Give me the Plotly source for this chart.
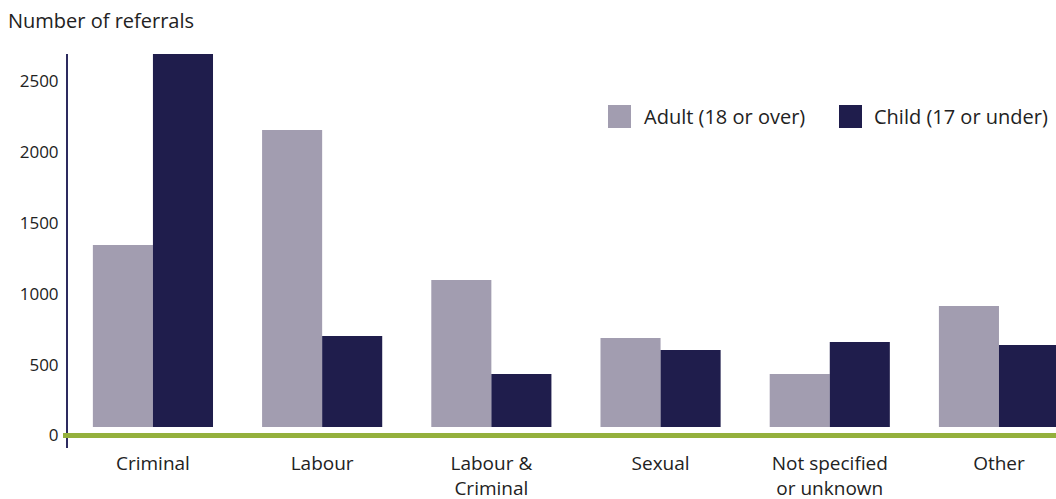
import plotly.graph_objects as go

categories = ["Criminal", "Labour", "Labour &<br>Criminal", "Sexual", "Not specified<br>or unknown", "Other"]
adult = [1343, 2154, 1097, 688, 434, 913]
child = [2700, 702, 434, 603, 659, 638]
series_names = ["Adult (18 or over)", "Child (17 or under)"]
y_ticks = [0, 500, 1000, 1500, 2000, 2500]

ADULT_C = "#a29db0"
CHILD_C = "#1f1d4c"
GREEN = "#94b03c"
AXIS_C = "#2d2b5f"
TXT = "#222222"
FONT = "Open Sans"
TEXT_SIZE = 20
CAT_SIZE = 19
TICK_SIZE = 17

fig = go.Figure()
fig.add_trace(go.Bar(x=list(range(len(categories))), y=adult, name=series_names[0],
                     marker=dict(color=ADULT_C, line=dict(width=0)), showlegend=False))
fig.add_trace(go.Bar(x=list(range(len(categories))), y=child, name=series_names[1],
                     marker=dict(color=CHILD_C, line=dict(width=0)), showlegend=False))

W, H = 1056, 499
ml, mr, mt, mb = 68, 0, 54, 51
pw, ph = W - ml - mr, H - mt - mb

def px_x(x):
    return (x - ml) / pw

def px_y(y):
    return (H - mb - y) / ph

shapes = [
    # white band between bar bases and the baseline (as in reference)
    dict(type="rect", xref="paper", yref="y", x0=2 / pw, x1=1, y0=0, y1=60,
         fillcolor="white", line=dict(width=0), layer="above"),
    dict(type="line", xref="paper", yref="y", x0=px_x(63), x1=1, y0=0, y1=0,
         line=dict(color=GREEN, width=5), layer="above"),
]
annotations = []
legend_items = [(series_names[0], ADULT_C, 608, 642), (series_names[1], CHILD_C, 839, 872)]
for name, col, sx, tx in legend_items:
    shapes.append(dict(type="rect", xref="paper", yref="paper",
                       x0=px_x(sx), x1=px_x(sx + 23), y0=px_y(128), y1=px_y(105),
                       fillcolor=col, line=dict(width=0), layer="above"))
    annotations.append(dict(xref="paper", yref="paper", x=px_x(tx), y=px_y(116.5),
                            xanchor="left", yanchor="middle", text=name, showarrow=False,
                            font=dict(family=FONT, size=TEXT_SIZE, color=TXT)))

fig.update_layout(
    template="none",
    width=W, height=H,
    margin=dict(l=ml, r=mr, t=mt, b=mb, pad=0, autoexpand=False),
    paper_bgcolor="white", plot_bgcolor="white",
    barmode="group", bargap=0.29, bargroupgap=0,
    font=dict(family=FONT, size=TEXT_SIZE, color=TXT),
    title=dict(text="Number of referrals", x=8 / W, xanchor="left", xref="container",
               y=1 - 21 / H, yanchor="middle", yref="container", automargin=False,
               font=dict(family=FONT, size=TEXT_SIZE, color=TXT)),
    xaxis=dict(range=[-0.502, 5.337], tickmode="array", tickvals=list(range(len(categories))),
               ticktext=categories, showgrid=False, zeroline=False, showline=False,
               ticks="", ticklabelstandoff=2, automargin=False,
               tickfont=dict(family=FONT, size=CAT_SIZE, color=TXT)),
    yaxis=dict(range=[-88, 2690], tickmode="array", tickvals=y_ticks,
               ticktext=[str(v) for v in y_ticks], showgrid=False, zeroline=False,
               showline=True, linecolor=AXIS_C, linewidth=2, ticks="", ticklabelstandoff=4,
               automargin=False,
               tickfont=dict(family=FONT, size=TICK_SIZE, color=TXT)),
    shapes=shapes, annotations=annotations,
)

fig.write_html("out.html", config={"displayModeBar": False},
               post_script="document.body.style.margin='0';document.body.style.overflow='hidden';")
